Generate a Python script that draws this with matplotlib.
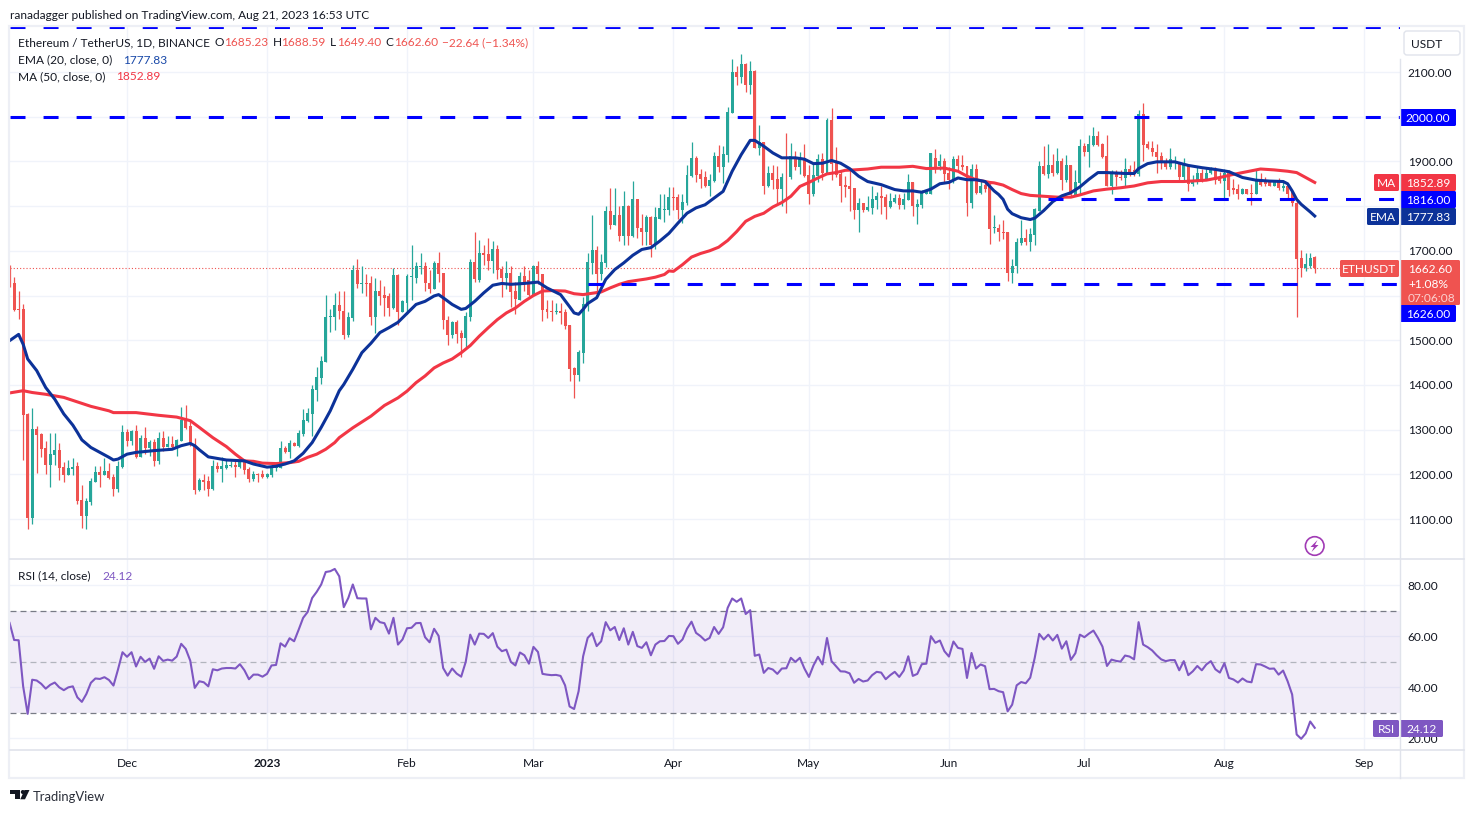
import numpy as np
import pandas as pd
import matplotlib
matplotlib.use('Agg')
import matplotlib.pyplot as plt
from matplotlib.patches import FancyBboxPatch, Polygon, Rectangle, Circle

plt.rcParams['font.family'] = ['Lato', 'DejaVu Sans']
plt.rcParams['lines.scale_dashes'] = False

# daily candles, 5 Nov 2022 to 21 Aug 2023
opens = [
    1646,1628,1570,1570,1334,1103,1301,1290,1259,1220,
    1244,1255,1216,1198,1211,1218,1142,1107,1138,1183,
    1205,1198,1207,1193,1167,1216,1294,1274,1297,1238,
    1281,1259,1272,1229,1281,1261,1268,1258,1275,1323,
    1308,1268,1165,1187,1185,1167,1218,1211,1215,1218,
    1220,1216,1229,1211,1189,1200,1200,1193,1198,1214,
    1214,1259,1250,1270,1263,1290,1319,1334,1389,1415,
    1452,1551,1553,1578,1566,1511,1549,1658,1625,1627,
    1627,1553,1611,1602,1598,1571,1645,1564,1584,1642,
    1640,1663,1667,1629,1614,1672,1651,1546,1511,1540,
    1515,1504,1553,1676,1634,1694,1692,1678,1703,1660,
    1640,1651,1609,1591,1643,1634,1600,1665,1649,1569,
    1566,1563,1566,1562,1533,1437,1423,1471,1578,1672,
    1701,1647,1672,1790,1757,1781,1732,1801,1732,1815,
    1750,1741,1775,1712,1772,1791,1792,1821,1821,1792,
    1807,1868,1908,1872,1864,1846,1857,1911,1888,1915,
    2009,2100,2089,2119,2072,2103,1931,1944,1846,1875,
    1861,1838,1866,1864,1908,1888,1908,1870,1828,1868,
    1906,1875,1993,1897,1872,1848,1846,1841,1792,1808,
    1792,1796,1814,1823,1821,1799,1810,1819,1803,1814,
    1855,1799,1803,1828,1828,1908,1890,1901,1875,1859,
    1906,1892,1890,1808,1884,1830,1848,1846,1750,1752,
    1743,1741,1650,1665,1717,1728,1719,1735,1790,1889,
    1871,1893,1873,1900,1858,1891,1824,1851,1934,1922,
    1936,1956,1938,1911,1844,1873,1866,1862,1882,1880,
    1871,2005,1938,1931,1922,1911,1898,1887,1896,1896,
    1864,1891,1849,1853,1873,1858,1873,1884,1864,1856,
    1875,1840,1838,1828,1838,1830,1828,1857,1855,1853,
    1846,1853,1840,1846,1831,1808,1683,1661,1667,1685.23]
closes = [
    1626,1567,1568,1333,1103,1301,1288,1257,1220,1245,
    1255,1214,1198,1214,1217,1140,1107,1140,1185,1205,
    1198,1207,1191,1167,1218,1294,1274,1297,1238,1281,
    1259,1272,1229,1281,1261,1268,1261,1277,1321,1303,
    1270,1165,1187,1182,1167,1218,1211,1218,1220,1220,
    1217,1229,1209,1189,1200,1198,1194,1200,1214,1218,
    1259,1250,1270,1263,1292,1321,1337,1391,1418,1454,
    1552,1554,1579,1566,1511,1551,1658,1625,1627,1625,
    1553,1611,1600,1595,1571,1645,1564,1587,1643,1643,
    1665,1667,1627,1614,1672,1649,1546,1511,1540,1513,
    1504,1555,1676,1636,1694,1690,1678,1703,1658,1640,
    1651,1607,1593,1643,1631,1602,1665,1647,1567,1564,
    1563,1566,1560,1531,1435,1423,1473,1580,1674,1701,
    1647,1674,1790,1757,1781,1732,1801,1732,1815,1750,
    1741,1775,1714,1775,1795,1792,1821,1819,1792,1810,
    1870,1908,1870,1861,1846,1859,1911,1888,1917,2011,
    2100,2089,2119,2072,2103,1931,1944,1846,1875,1859,
    1838,1866,1864,1911,1888,1908,1868,1828,1870,1906,
    1875,1993,1895,1870,1846,1843,1839,1792,1808,1792,
    1798,1816,1823,1819,1799,1812,1819,1803,1816,1855,
    1801,1805,1830,1834,1919,1888,1901,1872,1859,1906,
    1890,1888,1808,1884,1830,1846,1839,1749,1752,1741,
    1739,1650,1667,1719,1728,1719,1737,1793,1889,1871,
    1893,1873,1900,1858,1891,1824,1853,1934,1922,1938,
    1956,1936,1909,1844,1875,1864,1862,1882,1873,1871,
    2005,1936,1929,1920,1909,1896,1887,1905,1901,1864,
    1891,1849,1858,1873,1858,1875,1884,1858,1856,1875,
    1837,1835,1828,1838,1828,1828,1857,1848,1850,1846,
    1853,1840,1846,1828,1806,1681,1661,1670,1685,1662.6]
highs = [
    1668,1641,1610,1582,1338,1349,1308,1292,1274,1292,
    1292,1270,1228,1233,1236,1227,1176,1146,1191,1218,
    1218,1236,1225,1200,1229,1310,1301,1299,1310,1288,
    1305,1277,1279,1294,1297,1286,1285,1280,1351,1355,
    1321,1281,1191,1200,1196,1233,1227,1238,1231,1229,
    1231,1233,1233,1216,1207,1203,1209,1204,1225,1222,
    1274,1263,1277,1273,1298,1346,1349,1400,1439,1465,
    1602,1569,1606,1610,1611,1564,1669,1681,1665,1649,
    1643,1640,1634,1622,1605,1661,1647,1591,1649,1714,
    1676,1696,1674,1656,1678,1698,1651,1555,1544,1546,
    1522,1564,1681,1743,1725,1714,1728,1721,1712,1667,
    1678,1665,1631,1652,1665,1656,1669,1678,1649,1589,
    1589,1584,1584,1569,1533,1439,1479,1596,1694,1781,
    1710,1692,1801,1841,1841,1800,1834,1803,1857,1816,
    1783,1779,1778,1799,1828,1828,1843,1843,1828,1828,
    1893,1944,1911,1884,1879,1872,1920,1937,1935,2022,
    2130,2113,2141,2121,2125,2105,1982,1944,1889,1893,
    1890,1874,1964,1942,1924,1922,1940,1893,1896,1917,
    1919,1998,2020,1933,1881,1868,1885,1841,1819,1808,
    1823,1846,1832,1846,1828,1830,1828,1828,1830,1872,
    1855,1817,1837,1837,1919,1928,1917,1908,1888,1911,
    1915,1915,1890,1895,1895,1857,1855,1855,1779,1759,
    1770,1741,1681,1728,1770,1748,1752,1796,1902,1934,
    1938,1916,1931,1907,1914,1893,1880,1949,1942,1960,
    1976,1967,1942,1958,1880,1880,1880,1907,1893,1902,
    2014,2030,1946,1945,1938,1920,1907,1929,1911,1898,
    1907,1891,1869,1889,1884,1887,1887,1887,1877,1882,
    1880,1860,1850,1840,1839,1850,1880,1873,1866,1856,
    1855,1862,1858,1849,1834,1811,1701,1696,1696,1688.59]
lows = [
    1620,1565,1547,1233,1077,1088,1202,1239,1200,1172,
    1220,1187,1183,1198,1198,1134,1080,1077,1131,1183,
    1172,1198,1189,1152,1160,1214,1264,1266,1236,1238,
    1245,1242,1218,1222,1252,1261,1257,1240,1275,1301,
    1264,1156,1163,1165,1152,1165,1205,1182,1211,1216,
    1194,1214,1200,1182,1185,1182,1191,1191,1194,1208,
    1214,1248,1236,1263,1260,1285,1318,1286,1364,1402,
    1452,1519,1522,1548,1502,1508,1542,1616,1605,1599,
    1535,1517,1578,1555,1555,1569,1535,1562,1558,1591,
    1627,1647,1609,1605,1614,1631,1524,1490,1505,1493,
    1462,1482,1542,1631,1631,1669,1656,1651,1636,1596,
    1614,1575,1558,1589,1609,1600,1598,1625,1544,1549,
    1544,1558,1537,1524,1408,1370,1408,1448,1566,1647,
    1611,1634,1663,1748,1757,1722,1712,1712,1730,1728,
    1714,1712,1687,1703,1772,1764,1781,1792,1772,1762,
    1803,1866,1855,1841,1843,1823,1855,1877,1852,1899,
    2009,2072,2075,2056,2051,1931,1915,1826,1843,1839,
    1805,1801,1785,1861,1881,1872,1866,1805,1823,1855,
    1859,1872,1859,1866,1810,1821,1790,1772,1741,1787,
    1790,1783,1794,1783,1772,1796,1808,1794,1794,1814,
    1778,1761,1796,1826,1826,1875,1881,1852,1839,1852,
    1881,1881,1778,1796,1826,1828,1832,1716,1739,1722,
    1726,1632,1627,1650,1714,1714,1699,1714,1790,1869,
    1862,1867,1871,1837,1855,1820,1824,1826,1911,1887,
    1934,1934,1907,1844,1826,1844,1858,1846,1867,1867,
    1867,1900,1927,1913,1873,1882,1884,1884,1884,1858,
    1858,1833,1846,1849,1853,1858,1871,1849,1851,1815,
    1822,1828,1817,1826,1826,1802,1826,1846,1846,1844,
    1846,1835,1834,1815,1800,1551,1641,1655,1661,1649.4]

ema_days = [0,2,3,4,6,8,10,12,14,15,16,18,20,22,23,24,26,28,32,36,38,40,41,42,44,48,52,54,57,59,61,63,65,67,69,71,73,
    74,76,78,80,82,84,86,88,90,92,94,95,96,98,100,101,103,105,107,109,111,114,117,119,122,124,125,126,127,128,130,132,134,136,138,140,142,144,146,
    148,150,152,154,156,158,160,162,164,165,167,169,171,174,176,178,180,182,184,186,188,190,193,196,198,200,202,204,206,208,210,212,214,216,
    218,219,220,221,222,224,226,227,229,231,233,235,237,239,241,243,247,249,250,252,254,258,261,264,267,270,273,276,279,282,283,284,285,286,288,289]
ema_vals = [1499,1513,1491,1458,1432,1394,1368,1335,1310,1294,1277,1260,1249,1238,1232,1234,1245,1249,1253,1256,1264,1269,1264,1255,1239,1232,1230,1223,1216,1218,1223,1230,1247,1271,1305,1342,1387,
    1401,1435,1472,1493,1517,1528,1540,1560,1580,1587,1599,1602,1595,1580,1569,1571,1587,1606,1623,1627,1625,1627,1630,1617,1602,1575,1561,1558,1569,1582,1595,1636,1658,1673,1690,1703,1707,1722,1739,
    1762,1784,1796,1803,1818,1833,1878,1915,1947,1947,1934,1919,1908,1908,1905,1895,1896,1902,1896,1884,1867,1855,1848,1837,1834,1834,1831,1838,1850,1853,1863,1859,1859,1855,
    1834,1826,1815,1793,1783,1774,1770,1773,1790,1810,1823,1830,1843,1860,1875,1875,1873,1873,1884,1895,1899,1899,1891,1886,1882,1877,1864,1858,1856,1855,1850,1834,1815,1804,1787,1777.83]

ma_days = [0,3,5,8,12,15,18,22,23,28,33,37,40,42,45,48,50,52,54,56,59,62,64,66,68,70,72,73,76,80,
    83,86,88,90,92,94,96,98,100,102,104,106,108,110,112,114,116,118,120,123,125,127,129,131,133,135,137,139,141,143,145,146,
    147,149,151,153,155,157,159,161,163,165,167,169,171,173,175,177,179,181,183,185,187,190,193,197,200,203,207,210,212,214,217,
    218,220,222,224,226,229,232,235,237,240,243,246,249,252,255,260,265,268,271,274,277,280,283,285,287,289]
ma_vals = [1382,1387,1383,1379,1372,1362,1352,1342,1338,1338,1332,1328,1320,1305,1282,1262,1245,1230,1229,1225,1224,1226,1229,1238,1245,1256,1271,1282,1304,1330,
    1354,1371,1386,1405,1420,1438,1449,1458,1472,1488,1509,1528,1546,1561,1572,1587,1600,1610,1611,1610,1604,1602,1605,1608,1617,1625,1631,1634,1637,1641,1647,1655,
    1654,1669,1686,1694,1700,1708,1723,1743,1766,1777,1784,1798,1808,1822,1844,1853,1863,1872,1875,1880,1881,1883,1887,1887,1889,1884,1885,1878,1867,1859,1853,
    1852,1847,1837,1828,1824,1822,1820,1820,1825,1834,1838,1841,1845,1852,1855,1855,1858,1864,1871,1877,1883,1881,1878,1875,1864,1852.89]

rsi = [
    65.3,58.6,58.5,40.4,29.6,43,42.7,41.4,39.5,41,
    41.9,40,38.9,40,40.4,36.1,34.3,37.4,41.8,43.5,
    43.3,44,42.9,40.7,47,53.8,52,53.8,48.2,52,
    50,51.3,47.3,52.2,50.4,50.9,50.5,52.1,57.1,55.1,
    50.5,39.8,42.4,42,40.4,47.1,46.7,47.4,47.6,47.6,
    47.4,49.1,46.7,43.2,45,45,44.2,45.3,48.6,48.8,
    57.3,56,59.3,58.1,62.6,67.3,69.6,75.1,77.5,80.4,
    85.3,85.6,86.5,83.6,71.5,75.1,80.4,75,74.9,74.9,
    62.8,67.3,65.6,65.2,61.1,67.3,56.8,58.8,63.2,63.4,
    65.2,65.3,59.7,57.7,63,60.2,47.6,44.6,47.4,45.4,
    44.2,50,60.7,56.8,61.1,61,59.4,61.3,56,54.2,
    54.8,50,48.6,53.7,52.6,49.3,55.9,53.9,45.3,45,
    44.8,44.9,44.5,40.8,32.5,31.5,38.5,52.2,59.4,61.3,
    56.2,58.1,65.6,62.4,63.7,58.6,63.2,56.8,61.8,56.2,
    55.5,57.7,52.6,56.8,58.1,58.2,60.2,60.1,57.1,58.8,
    63,65.8,61.4,60.1,58.4,59.4,63.7,61,63.6,71.2,
    74.9,73.6,74.9,68.8,70.3,52.4,52.9,45.7,47.6,47,
    45.3,47.4,47.5,51.6,50,51.6,47.4,44.1,48.6,52,
    49,59.4,50.3,48.3,46.3,46.2,45.5,41.8,43.3,42.3,
    42.7,44.8,46.1,45.8,43.2,44.8,46.1,44.1,46.6,52.2,
    44.5,45.3,49.1,49.3,60.1,57.5,58.4,54.2,52.1,58,
    55.5,55.1,43.7,53.5,47.4,49,48.3,39.3,39.4,38.5,
    38.1,30.6,33.2,40.8,42.1,41.6,43.8,51.6,61,58.8,
    60.7,58.4,60.6,55.2,58.1,50.8,53.4,60.7,59.7,61.1,
    62.3,59.4,56,48.4,50.9,50.4,50.1,52.5,52.1,51,
    65.6,56.8,55.8,54.5,52.6,51,50.3,50.7,50.7,46.7,
    50.3,44.8,46.3,48.4,46.7,49,50.3,47.1,45.8,49.5,
    43.7,43.1,41.9,43.5,42.3,42,49.1,49,48.2,47.3,
    47.4,45,46.6,42.4,37.2,21.5,19.8,21.9,26.6,24.12]

price_ticks = [1100,1200,1300,1400,1500,1600,1700,1800,1900,2000,2100]
hidden_ticks = [1600,1800,2000]  # covered by the price tags
rsi_ticks = [20,40,60,80]
levels = [(2200,0),(2000,0),(1816,230),(1626,128)]  # price, first day
month_starts = ['2022-12-01','2023-01-01','2023-02-01','2023-03-01','2023-04-01','2023-05-01','2023-06-01','2023-07-01','2023-08-01','2023-09-01']
month_names = ['Dec','2023','Feb','Mar','Apr','May','Jun','Jul','Aug','Sep']

UP = '#26a69a'
DOWN = '#ef5350'
EMA = '#0c3299'
MA = '#f23645'
LEVEL = '#0000ff'
PURPLE = '#7e57c2'
GRID = '#f0f3fa'
BORDER = '#e0e3eb'
TEXT = '#131722'
FS = 8.6
W, H = 1474, 813

opens, closes, highs, lows = map(np.array, (opens, closes, highs, lows))
start = pd.Timestamp('2022-11-05')
days = np.arange(len(closes))
month_x = [(pd.Timestamp(m) - start).days for m in month_starts]
xlim = ((10 - 9.6) / 4.516, (1400 - 9.6) / 4.516)


def pane(top, bottom):
    return [10 / W, 1 - bottom / H, 1390 / W, (bottom - top) / H]


fig = plt.figure(figsize=(W / 100, H / 100), dpi=100, facecolor='white')
ax = fig.add_axes(pane(27, 558))
ax2 = fig.add_axes(pane(559, 750))

ax.set_ylim(2100 - (558 - 72) / 0.447, 2100 + (72 - 27) / 0.447)
ax2.set_ylim(20 - (750 - 738.3) / 2.547, 80 + (585.5 - 559) / 2.547)

for a in (ax, ax2):
    a.set_xlim(*xlim)
    a.set_xticks(month_x)
    a.grid(True, color=GRID, lw=1.0)
    a.set_axisbelow(True)
    a.yaxis.tick_right()
    a.tick_params(length=0, labelsize=FS, labelcolor=TEXT, pad=5.6)
    for s in a.spines.values():
        s.set_visible(False)

ax.set_xticklabels([])
ax.set_yticks(price_ticks)
ax.set_yticklabels(['' if p in hidden_ticks else '%.2f' % p for p in price_ticks])
ax2.set_yticks(rsi_ticks)
ax2.set_yticklabels(['%.2f' % p for p in rsi_ticks])
ax2.set_xticklabels(month_names)
ax2.tick_params(axis='x', pad=6)
ax2.get_xticklabels()[1].set_fontweight('bold')

# candles
colors = np.where(closes >= opens, UP, DOWN)
ax.vlines(days, lows, highs, colors=colors, lw=0.9, zorder=3)
ax.bar(days, np.maximum(np.abs(closes - opens), 2.2), bottom=np.minimum(opens, closes),
       width=0.66, color=colors, lw=0, zorder=4)

ax.plot(ma_days, ma_vals, color=MA, lw=2.2, zorder=5, solid_joinstyle='round')
ax.plot(ema_days, ema_vals, color=EMA, lw=2.2, zorder=6, solid_joinstyle='round')

ax.axhline(closes[-1], color=DOWN, lw=0.8, dashes=(0.8, 1.5), zorder=2)
for lvl, first in levels:
    ax.plot([first, xlim[1]], [lvl, lvl], color=LEVEL, lw=2.2, dashes=(10.8, 13.0), zorder=7, dash_capstyle='butt')

# rsi pane
ax2.axhspan(30, 70, color=PURPLE, alpha=0.1, lw=0)
ax2.axhline(70, color='#787b86', lw=0.9, dashes=(4.3, 2.9))
ax2.axhline(50, color='#b2b5be', lw=0.9, dashes=(4.3, 2.9))
ax2.axhline(30, color='#787b86', lw=0.9, dashes=(4.3, 2.9))
ax2.plot(days, rsi, color=PURPLE, lw=1.5, zorder=4)

# overlay in pixels for frame, labels and legend
ov = fig.add_axes([0, 0, 1, 1], zorder=10)
ov.set_xlim(0, W)
ov.set_ylim(H, 0)
ov.axis('off')
ov.patch.set_alpha(0)

ov.add_patch(Rectangle((9.5, 26.5), 1454.5, 751.5, fill=False, ec='#edeff5', lw=1.6))
ov.plot([1400.5, 1400.5], [59, 778], color=BORDER, lw=1)
ov.plot([10, 1464], [559, 559], color=BORDER, lw=1.2)
ov.plot([10, 1464], [750, 750], color=BORDER, lw=1.2)


def label(x0, x1, y0, y1, txt, bg, fg='white', size=FS):
    ov.add_patch(FancyBboxPatch((x0 + 1, y0 + 1), x1 - x0 - 2, y1 - y0 - 2, boxstyle='round,pad=1,rounding_size=1.5', fc=bg, ec='none'))
    ov.text((x0 + x1) / 2, (y0 + y1) / 2, txt, color=fg, fontsize=size, ha='center', va='center_baseline')


ov.add_patch(FancyBboxPatch((1405, 32), 54, 22, boxstyle='round,pad=1,rounding_size=3', fc='white', ec=BORDER, lw=1))
ov.text(1427, 43.5, 'USDT', color=TEXT, fontsize=FS, ha='center', va='center_baseline')

label(1400, 1456, 109, 126, '2000.00', LEVEL)
label(1374, 1399, 174, 191, 'MA', MA)
label(1400, 1456, 174, 191, '1852.89', MA)
label(1400, 1456, 191, 208, '1816.00', LEVEL)
label(1367, 1399, 208, 225, 'EMA', EMA)
label(1400, 1456, 208, 225, '1777.83', EMA)
label(1340, 1399, 260, 277, 'ETHUSDT', DOWN)
ov.add_patch(FancyBboxPatch((1401, 261), 58, 43, boxstyle='round,pad=1,rounding_size=1.5', fc=DOWN, ec='none'))
ov.text(1408, 268.5, '1662.60', color='white', fontsize=FS, va='center_baseline')
ov.text(1408, 283, '+1.08%', color='white', fontsize=FS, va='center_baseline')
ov.text(1408, 297, '07:06:08', color='#fbd0cf', fontsize=FS, va='center_baseline')
label(1400, 1456, 305, 322, '1626.00', LEVEL)
label(1373, 1399, 720, 737, 'RSI', PURPLE)
label(1400, 1443, 720, 737, '24.12', PURPLE)


def put(x, y, txt, color=TEXT, size=FS):
    ov.text(x, y, txt, color=color, fontsize=size, va='center_baseline')


put(10, 14.5, 'ranadagger published on TradingView.com, Aug 21, 2023 16:53 UTC')
put(18, 42, 'Ethereum / TetherUS, 1D, BINANCE')
for x, t in [(215, 'O'), (272.5, 'H'), (330, 'L'), (385.7, 'C')]:
    put(x, 42, t)
for x, t in [(224, '1685.23'), (281.4, '1688.59'), (336.8, '1649.40'), (394, '1662.60'), (442, '\u221222.64 (\u22121.34%)')]:
    put(x, 42, t, DOWN)
put(18, 59, 'EMA (20, close, 0)')
put(123, 59, '1777.83', '#1848a8')
put(18, 76, 'MA (50, close, 0)')
put(116, 76, '1852.89', MA)
put(18, 575, 'RSI (14, close)')
put(102, 575, '24.12', PURPLE)

# lightning badge
ov.add_patch(Circle((1314.7, 546), 9.3, fc='white', ec='#a13bb5', lw=1.2))
ov.add_patch(Polygon([(1317.5, 540), (1310.5, 547), (1314, 547), (1311.5, 552), (1318.5, 545), (1315, 545)], fc='#a13bb5', ec='none'))

# logo
ov.add_patch(Polygon([(10, 790), (20, 790), (20, 799.3), (15, 799.3), (15, 794), (10, 794)], fc=TEXT, ec='none'))
ov.add_patch(Circle((22.8, 792), 2.0, fc=TEXT, ec='none'))
ov.add_patch(Polygon([(24.5, 790), (29.5, 790), (25, 799.3), (20.3, 799.3)], fc=TEXT, ec='none'))
ov.text(33, 795.5, 'TradingView', color='#2a2e39', fontsize=9.4, va='center_baseline')

fig.savefig('out.png', dpi=100)
